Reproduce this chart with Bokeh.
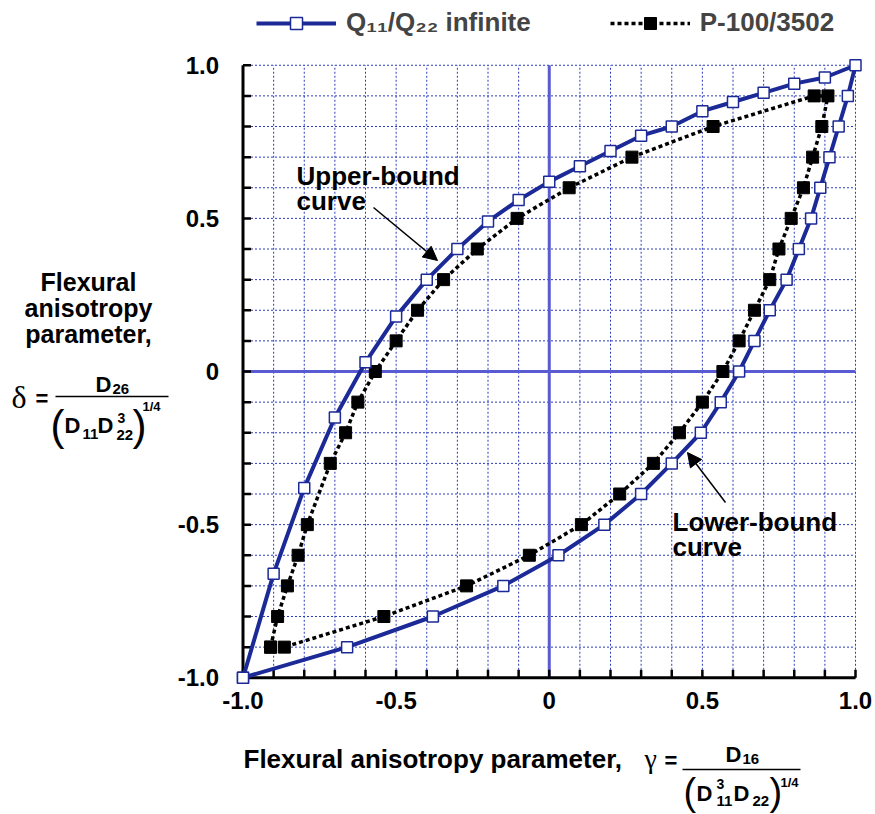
from bokeh.plotting import figure
from bokeh.models import Range1d, Legend, LegendItem, Label, Arrow, NormalHead
from bokeh.core.properties import value
from bokeh.embed import file_html
from bokeh.resources import INLINE

# ---------------- data ----------------
# Q11/Q22 infinite : closed boundary (upper-bound branch then lower-bound branch)
q_inf_x = [-1.0, -0.9, -0.8, -0.7, -0.6, -0.5, -0.4, -0.3, -0.2, -0.1, 0.0, 0.1, 0.2,
           0.3, 0.4, 0.5, 0.6, 0.7, 0.8, 0.9, 1.0,
           0.975, 0.945, 0.915, 0.885, 0.855, 0.815, 0.775, 0.72, 0.67, 0.62, 0.56,
           0.495, 0.4, 0.3, 0.18, 0.03, -0.15, -0.38, -0.66, -1.0]
q_inf_y = [-1.0, -0.66, -0.38, -0.15, 0.03, 0.18, 0.30, 0.40, 0.49, 0.56, 0.62, 0.67, 0.72,
           0.77, 0.80, 0.85, 0.88, 0.91, 0.94, 0.96, 1.0,
           0.9, 0.8, 0.7, 0.6, 0.5, 0.4, 0.3, 0.2, 0.1, 0.0, -0.1,
           -0.2, -0.3, -0.4, -0.5, -0.6, -0.7, -0.8, -0.9, -1.0]

# P-100/3502 : closed boundary
p100_x = [-0.91, -0.887, -0.855, -0.82, -0.79, -0.715, -0.665, -0.625, -0.568, -0.5, -0.43,
          -0.345, -0.235, -0.105, 0.065, 0.27, 0.535, 0.865, 0.91, 0.89, 0.86, 0.83, 0.79,
          0.75, 0.72, 0.67, 0.62, 0.567, 0.5, 0.425, 0.34, 0.23, 0.105, -0.065, -0.27,
          -0.54, -0.865, -0.91]
p100_y = [-0.9, -0.8, -0.7, -0.6, -0.5, -0.3, -0.2, -0.1, 0.0, 0.1, 0.2,
          0.3, 0.4, 0.5, 0.6, 0.7, 0.8, 0.9, 0.9, 0.8, 0.7, 0.6, 0.5,
          0.4, 0.3, 0.2, 0.1, 0.0, -0.1, -0.2, -0.3, -0.4, -0.5, -0.6, -0.7,
          -0.8, -0.9, -0.9]

series_names = ["Q\u2081\u2081/Q\u2082\u2082 infinite", "P-100/3502"]
tick_values = [-1.0, -0.5, 0.0, 0.5, 1.0]
tick_labels = ["-1.0", "-0.5", "0", "0.5", "1.0"]
grid_values = [round(-1.0 + 0.1 * i, 1) for i in range(21)]
axis_min, axis_max = -1.0, 1.0

# ---------------- layout / styling ----------------
W, H = 875, 814
S = 306.25            # pixels per data unit
XC, YC = 548.75, 371  # page pixel of data (0, 0)
BLUE = "#1b2a96"
ZERO = "#5a5ad2"
GRID = "#2c3cc0"
SANS = "Liberation Sans"
SERIF = "Liberation Serif"

p = figure(width=W, height=H,
           x_range=Range1d(-XC / S, (W - XC) / S), y_range=Range1d((YC - H) / S, YC / S),
           x_axis_type=None, y_axis_type=None, min_border=0,
           output_backend="svg", toolbar_location=None)
p.outline_line_color = None
p.background_fill_color = "white"
p.border_fill_color = "white"

def dx(px):
    return (px - XC) / S
def dy(py):
    return (YC - py) / S

n = len(grid_values)
lo = [axis_min] * n
hi = [axis_max] * n
# dotted grid, limited to the -1..1 square
p.segment(x0=grid_values, y0=lo, x1=grid_values, y1=hi, line_color=GRID, line_width=1,
          line_dash="2 2")
p.segment(x0=lo, y0=grid_values, x1=hi, y1=grid_values, line_color=GRID, line_width=1,
          line_dash="2 2")
# zero lines
p.segment(x0=[0.0, axis_min], y0=[axis_min, 0.0], x1=[0.0, axis_max], y1=[axis_max, 0.0],
          line_color=ZERO, line_width=3)
# axis lines (left and bottom)
p.segment(x0=[axis_min, axis_min], y0=[axis_min, axis_min], x1=[axis_min, axis_max],
          y1=[axis_max, axis_min], line_color="black", line_width=3)
# tick marks (inward, every 0.1)
TL = 8 / S
p.segment(x0=grid_values, y0=lo, x1=grid_values, y1=[axis_min + TL] * n,
          line_color="black", line_width=2.5)
p.segment(x0=lo, y0=grid_values, x1=[axis_min + TL] * n, y1=grid_values,
          line_color="black", line_width=2.5)
# tick labels
m = len(tick_values)
p.text(x=tick_values, y=[axis_min - 23 / S] * m, text=tick_labels, text_align="center",
       text_baseline="middle", text_font=value(SANS), text_font_style="bold",
       text_font_size="24px", text_color="black")
p.text(x=[axis_min - 24 / S] * m, y=tick_values, text=tick_labels, text_align="right",
       text_baseline="middle", text_font=value(SANS), text_font_style="bold",
       text_font_size="24px", text_color="black")

# curves
r_pl = p.line(p100_x, p100_y, line_color="black", line_width=3.5, line_dash="4 3")
r_ps = p.scatter(p100_x, p100_y, marker="square", size=12, fill_color="black", line_color="black")
r_ql = p.line(q_inf_x, q_inf_y, line_color=BLUE, line_width=4)
r_qs = p.scatter(q_inf_x, q_inf_y, marker="square", size=11, fill_color="white",
                 line_color=BLUE, line_width=1.5)

legend = Legend(items=[LegendItem(label=series_names[0], renderers=[r_ql, r_qs]),
                       LegendItem(label=series_names[1], renderers=[r_pl, r_ps])],
                orientation="horizontal", location=(256, H - 38), padding=0, margin=0,
                spacing=79, glyph_width=80, glyph_height=30, label_standoff=10,
                label_text_font=SANS, label_text_font_style="bold", label_text_font_size="26px",
                border_line_color=None, background_fill_alpha=0)
p.add_layout(legend, "center")

def lab(px, py, text, size, font=SANS, style="bold", align="left"):
    # py is the intended baseline; place by the middle of the em box
    p.add_layout(Label(x=dx(px), y=dy(py - 0.35 * size), text=text, text_font=font,
                       text_font_style=style, text_font_size=f"{size}px", text_align=align,
                       text_baseline="middle", text_color="black"))

def hline(x0, x1, y, w=1.5):
    p.add_layout(Arrow(x_start=dx(x0), y_start=dy(y), x_end=dx(x1), y_end=dy(y), start=None,
                       end=None, line_color="black", line_width=w))

# curve annotations
lab(296, 185, "Upper-bound", 26)
lab(296, 210, "curve", 26)
lab(672, 531, "Lower-bound", 26)
lab(672, 556, "curve", 26)
p.add_layout(Arrow(x_start=dx(373), y_start=dy(207), x_end=dx(437), y_end=dy(260), line_width=1.5,
                   end=NormalHead(size=14, fill_color="black", line_color="black")))
p.add_layout(Arrow(x_start=dx(725), y_start=dy(502), x_end=dx(687), y_end=dy(452), line_width=1.5,
                   end=NormalHead(size=14, fill_color="black", line_color="black")))

# y-axis title
lab(88, 290, "Flexural", 25, align="center")
lab(88, 316, "anisotropy", 25, align="center")
lab(88, 342, "parameter,", 25, align="center")
lab(11, 408, "\u03b4", 32, font=SERIF, style="normal")
lab(35, 406, "=", 22)
hline(55, 168, 396)
lab(95, 392, "D", 22)
lab(112, 394, "26", 15)
lab(50, 440, "(", 42, style="normal")
lab(64, 433, "D", 22)
lab(82, 439, "11", 15)
lab(97, 433, "D", 22)
lab(117, 422, "3", 14)
lab(116, 440, "22", 15)
lab(132, 440, ")", 42, style="normal")
lab(142, 411, "1/4", 13)

# x-axis title
lab(243, 768, "Flexural anisotropy parameter,", 26)
lab(644, 768, "\u03b3", 28, font=SERIF, style="normal")
lab(664, 768, "=", 22)
hline(682, 800, 769)
lab(725, 762, "D", 22)
lab(742, 764, "16", 15)
lab(683, 805, "(", 38, style="normal")
lab(696, 801, "D", 22)
lab(716, 788, "3", 14)
lab(716, 806, "11", 15)
lab(733, 801, "D", 22)
lab(752, 806, "22", 15)
lab(769, 805, ")", 38, style="normal")
lab(780, 787, "1/4", 13)

open("out.html", "w").write(file_html(p, INLINE))
